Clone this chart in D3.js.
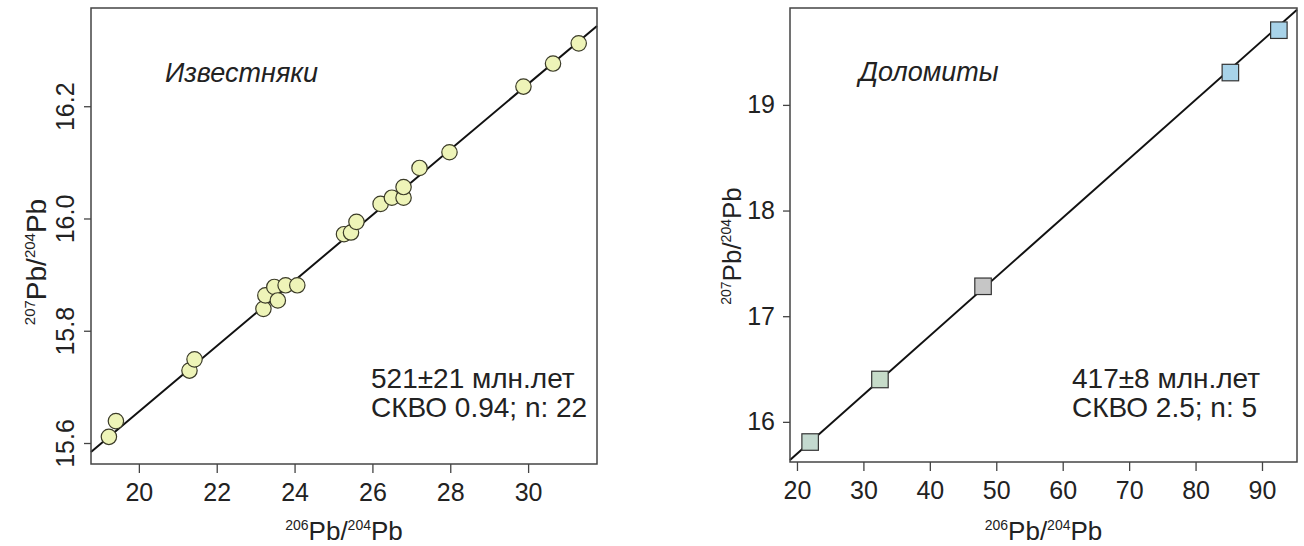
<!DOCTYPE html>
<html>
<head>
<meta charset="utf-8">
<script src="https://cdn.jsdelivr.net/npm/d3@7"></script>
<style>
  body { margin: 0; background: #fff; }
  svg { display: block; font-family: 'Liberation Sans', Arial, sans-serif; }
  .axis path, .axis line { stroke: #444; stroke-width: 1.3; }
  .axis text { fill: #222; font-size: 25px; }
</style>
</head>
<body>
<svg id="chart" width="1304" height="546"></svg>
<script>
// Limestones (Известняки)
const limeX = [19.23, 19.41, 21.30, 21.43, 23.20, 23.25, 23.48, 23.57, 23.77, 24.07, 25.27,
  25.45, 25.59, 26.21, 26.50, 26.80, 26.80, 27.21, 27.98, 29.88, 30.64, 31.30]
const limeY = [15.611, 15.639, 15.729, 15.749, 15.839, 15.863, 15.878, 15.854, 15.881, 15.881, 15.972,
  15.975, 15.994, 16.026, 16.037, 16.037, 16.056, 16.090, 16.118, 16.235, 16.276, 16.312]
const limeTicksX = [20, 22, 24, 26, 28, 30]
const limeTicksY = [15.6, 15.8, 16.0, 16.2]
const limeIsochron = [[18.77, 15.584], [31.77, 16.343]]

// Dolomites (Доломиты)
const dolX = [21.98, 32.49, 48.01, 85.24, 92.54]
const dolY = [15.809, 16.401, 17.283, 19.306, 19.707]
const dolFill = ['#c3d9cf', '#c6dbc9', '#c6c6c6', '#a8d3e9', '#a8d3e9']
const dolTicksX = [20, 30, 40, 50, 60, 70, 80, 90]
const dolTicksY = [16, 17, 18, 19]
const dolIsochron = [[18.95, 15.64], [95.27, 19.90]]

const svg = d3.select('#chart')

function addPbLabel(sel, top, bottom, size) {
  const sup = Math.round(size * 0.55)
  const shift = Math.round(size * 0.38)
  sel.append('tspan').attr('font-size', sup).attr('dy', -shift).text(top)
  sel.append('tspan').attr('dy', shift).text('Pb/')
  sel.append('tspan').attr('font-size', sup).attr('dy', -shift).text(bottom)
  sel.append('tspan').attr('dy', shift).text('Pb')
}

function renderPanel(opts) {
  const { left, right, top, bottom } = opts.box
  const width = right - left
  const height = bottom - top

  const g = svg.append('g')
    .attr('transform', `translate(${left}, ${top})`)

  const x = d3.scaleLinear().domain(opts.xDomain).range([0, width])
  const y = d3.scaleLinear().domain(opts.yDomain).range([height, 0])

  // isochron line
  const line = d3.line()
    .x(d => x(d[0]))
    .y(d => y(d[1]))

  g.append('path')
    .attr('d', line(opts.isochron))
    .attr('stroke', '#111')
    .attr('stroke-width', 2)
    .attr('fill', 'none')

  // data points
  const pts = opts.xs.map((v, i) => ({ x: v, y: opts.ys[i], i }))
  if (opts.shape === 'circle') {
    g.selectAll('circle')
      .data(pts)
      .enter()
      .append('circle')
        .attr('cx', d => x(d.x))
        .attr('cy', d => y(d.y))
        .attr('r', 7.7)
        .attr('fill', '#eef4b8')
        .attr('stroke', '#3b3b28')
        .attr('stroke-width', 1.2)
  } else {
    const s = 16.5
    g.selectAll('rect')
      .data(pts)
      .enter()
      .append('rect')
        .attr('x', d => x(d.x) - s / 2)
        .attr('y', d => y(d.y) - s / 2)
        .attr('width', s)
        .attr('height', s)
        .attr('fill', d => opts.fills[d.i])
        .attr('stroke', '#333')
        .attr('stroke-width', 1.2)
  }

  // frame
  g.append('rect')
    .attr('width', width)
    .attr('height', height)
    .attr('fill', 'none')
    .attr('stroke', '#444')
    .attr('stroke-width', 1.5)

  // axes
  const xAxis = g.append('g')
    .attr('class', 'axis')
    .attr('transform', `translate(0, ${height})`)
    .call(d3.axisBottom(x).tickValues(opts.ticksX).tickSize(9).tickPadding(10).tickFormat(d3.format('d')))
  xAxis.select('.domain').remove()

  const yAxis = g.append('g')
    .attr('class', 'axis')
    .call(d3.axisLeft(y).tickValues(opts.ticksY).tickSize(7).tickPadding(8).tickFormat(opts.yFormat))
  yAxis.select('.domain').remove()

  if (opts.rotateY) {
    yAxis.selectAll('text')
      .attr('transform', 'rotate(-90)')
      .attr('text-anchor', 'middle')
      .attr('x', 0)
      .attr('y', -17)
      .attr('dy', 0)
  }

  // axis titles
  svg.append('text')
    .attr('x', left + width / 2)
    .attr('y', 540)
    .attr('text-anchor', 'middle')
    .attr('font-size', 26)
    .attr('fill', '#222')
    .call(addPbLabel, '206', '204', 26)

  svg.append('text')
    .attr('transform', `translate(${opts.yTitle.x}, ${opts.yTitle.y}) rotate(-90)`)
    .attr('text-anchor', 'middle')
    .attr('font-size', opts.yTitle.size)
    .attr('fill', '#222')
    .call(addPbLabel, '207', '204', opts.yTitle.size)

  // annotations
  svg.append('text')
    .attr('x', opts.name.x)
    .attr('y', opts.name.y)
    .attr('font-size', 27)
    .attr('font-style', 'italic')
    .attr('fill', '#222')
    .text(opts.name.text)

  opts.stats.lines.forEach((t, i) => {
    svg.append('text')
      .attr('x', opts.stats.x)
      .attr('y', opts.stats.y + i * 29)
      .attr('font-size', 28)
      .attr('fill', '#222')
      .text(t)
  })
}

renderPanel({
  box: { left: 91, right: 597, top: 8, bottom: 464 },
  xDomain: [18.77, 31.77],
  yDomain: [15.5626, 16.375],
  xs: limeX,
  ys: limeY,
  shape: 'circle',
  isochron: limeIsochron,
  ticksX: limeTicksX,
  ticksY: limeTicksY,
  yFormat: d3.format('.1f'),
  rotateY: true,
  yTitle: { x: 46, y: 262, size: 28 },
  name: { text: 'Известняки', x: 165, y: 82 },
  stats: { x: 371, y: 388, lines: ['521±21 млн.лет', 'СКВО 0.94; n: 22'] }
})

renderPanel({
  box: { left: 790, right: 1297, top: 8, bottom: 462 },
  xDomain: [18.95, 95.27],
  yDomain: [15.62, 19.917],
  xs: dolX,
  ys: dolY,
  shape: 'square',
  fills: dolFill,
  isochron: dolIsochron,
  ticksX: dolTicksX,
  ticksY: dolTicksY,
  yFormat: d3.format('d'),
  rotateY: false,
  yTitle: { x: 741, y: 246, size: 26 },
  name: { text: 'Доломиты', x: 859, y: 81 },
  stats: { x: 1072, y: 388, lines: ['417±8 млн.лет', 'СКВО 2.5; n: 5'] }
})
</script>
</body>
</html>
